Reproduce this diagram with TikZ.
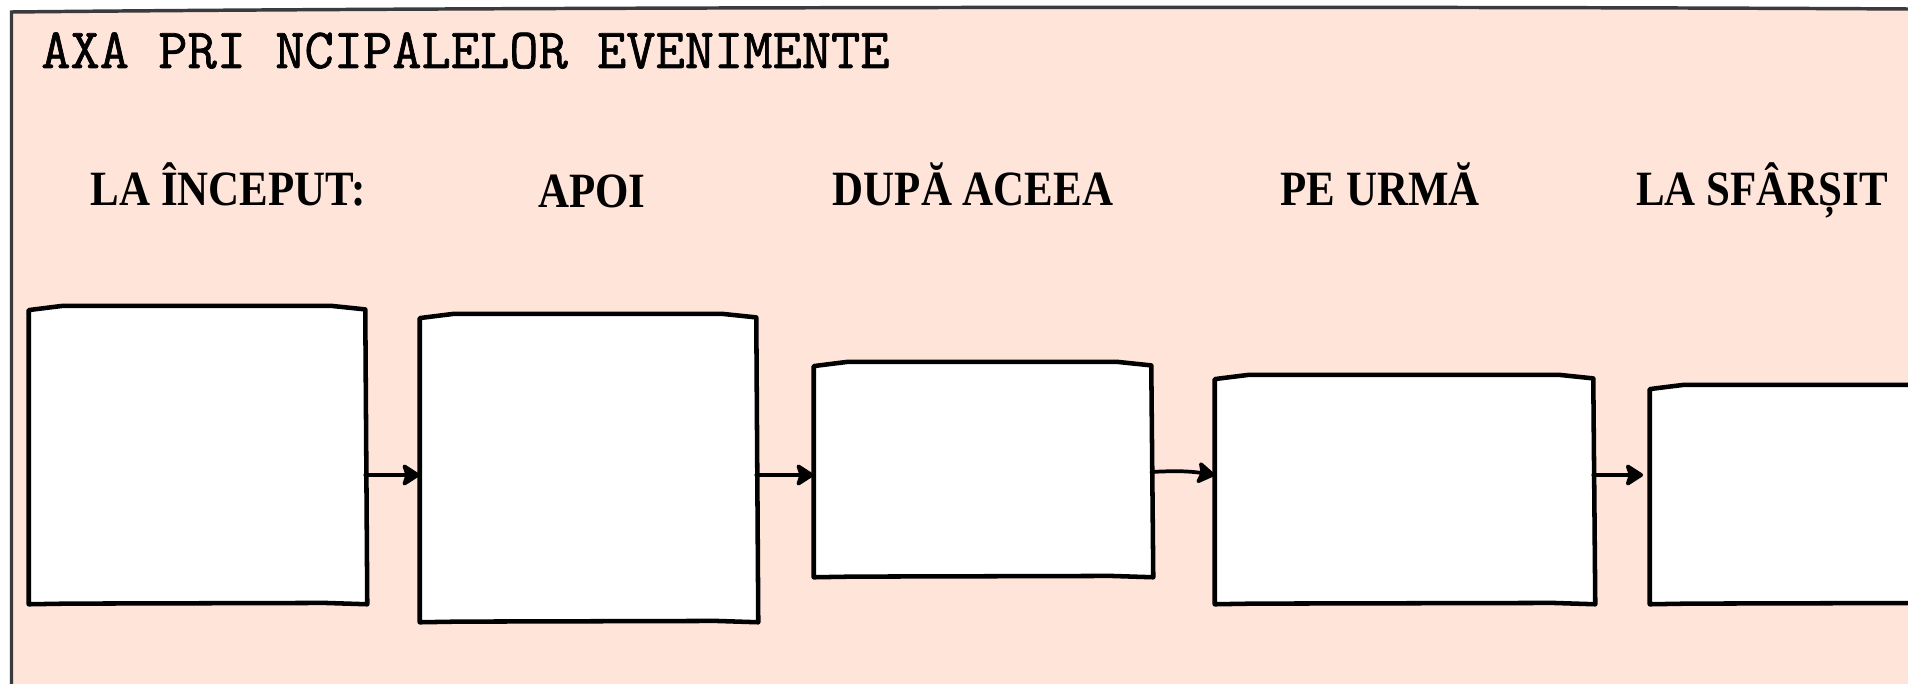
\documentclass[tikz,border=0pt]{standalone}
\usepackage{fontspec}
\usepackage{graphicx}
\usetikzlibrary{arrows.meta}
\definecolor{bg}{HTML}{FFE4DA}
\definecolor{framec}{HTML}{393B3D}
\newfontfamily\hdfont{Liberation Serif}[UprightFont={* Bold}]
\newfontfamily\titlefont{Latin Modern Mono}[FakeBold=1.2]
\newcommand{\hdtext}[1]{\scalebox{0.87}[1]{#1}}
\newcommand{\sketchbox}[1]{%
  \draw[boxline] ([yshift=-2.5pt]#1.north west) -- ([xshift=25pt,yshift=0.6pt]#1.north west)
    -- ([xshift=-25pt,yshift=0.6pt]#1.north east) -- ([yshift=-2pt]#1.north east)
    -- ([xshift=1.5pt]#1.south east) -- ([xshift=-30pt,yshift=1pt]#1.south east)
    -- ([xshift=30pt,yshift=0.5pt]#1.south west) -- (#1.south west) -- cycle;}
\begin{document}
\begin{tikzpicture}[x=0.75pt,y=-0.75pt,
  evbox/.style 2 args={draw=none, fill=white, rectangle, inner sep=0pt,
     minimum width=#1*0.75pt, minimum height=#2*0.75pt},
  boxline/.style={draw=black, line width=3.4pt, line join=round},
  arr/.style={line width=2.8pt, line cap=round,
     -{Stealth[length=15pt,width=19pt,inset=3pt,round,fill=black]}},
  head/.style={anchor=base, inner sep=0pt, font=\hdfont\fontsize{37}{40}\selectfont},
  titlestyle/.style={anchor=base west, inner sep=0pt, font=\titlefont\fontsize{42.6}{45}\selectfont}]
\useasboundingbox (0,0) rectangle (1908,684);
\fill[white] (0,0) rectangle (1908,684);
\fill[bg] (11.5,12) .. controls (500,7) and (1400,6) .. (1908,9) -- (1908,684) -- (11.5,684) -- cycle;
\draw[framec, line width=2.6pt] (11.5,690) -- (11.5,12) .. controls (500,7) and (1400,6) .. (1908,9);
% title
\node[titlestyle] (title) at (41,68) {AXA PRI NCIPALELOR EVENIMENTE};
% headings
\node[head] (h1) at (228,206) {\hdtext{LA ÎNCEPUT:}};
\node[head] (h2) at (592,208) {\hdtext{APOI}};
\node[head] (h3) at (973,206) {\hdtext{DUPĂ ACEEA}};
\node[head] (h4) at (1380,206) {\hdtext{PE URMĂ}};
\node[head] (h5) at (1762,206) {\hdtext{LA SFÂRȘIT}};
% boxes
\node[evbox={336}{297}] (b1) at (197,455.5) {};
\node[evbox={336}{307}] (b2) at (588,468.5) {};
\node[evbox={337}{214}] (b3) at (982.5,470) {};
\node[evbox={378}{228}] (b4) at (1404,490) {};
\node[evbox={336}{218}] (b5) at (1818,495) {};
\sketchbox{b1}
\sketchbox{b2}
\sketchbox{b3}
\sketchbox{b4}
\sketchbox{b5}
% arrows
\coordinate (ay) at (0,475);
\coordinate (ay3) at (0,472);
\draw[arr] (b1.east |- ay) -- (b2.west |- ay);
\draw[arr] (b2.east |- ay) -- (b3.west |- ay);
\draw[arr] (b3.east |- ay3) to[bend left=6] (b4.west |- ay);
\draw[arr] (b4.east |- ay) -- ([xshift=-5pt]b5.west |- ay);
\end{tikzpicture}
\end{document}
